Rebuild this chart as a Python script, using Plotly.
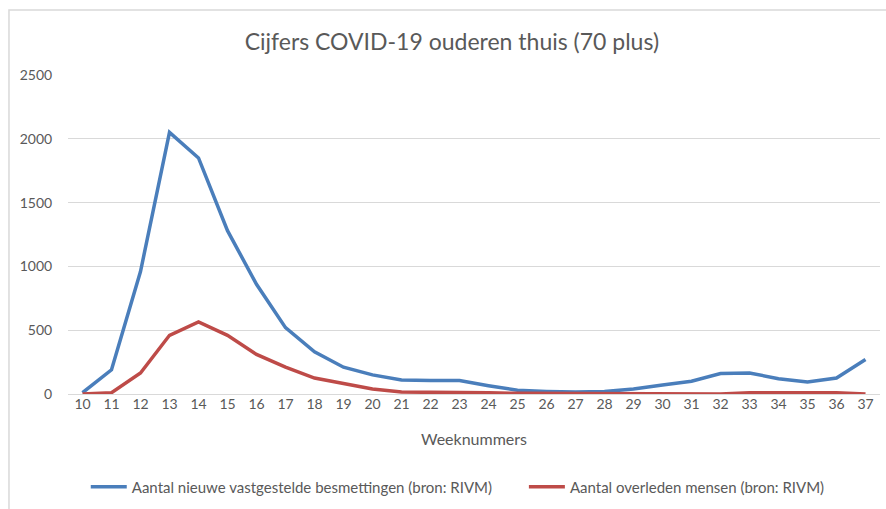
import plotly.graph_objects as go

weeks = list(range(10, 38))
besmettingen = [10, 190, 960, 2050, 1850, 1280, 860, 520, 330, 210, 150, 110, 105, 105,
                65, 30, 20, 15, 20, 40, 70, 100, 160, 165, 120, 95, 125, 270]
overleden = [0, 10, 165, 460, 565, 460, 310, 210, 125, 85, 40, 15, 15, 15,
             10, 5, 5, 5, 5, 5, 0, 0, 0, 10, 10, 10, 10, 0]
y_ticks = [0, 500, 1000, 1500, 2000, 2500]

grey = '#595959'
font_family = 'Lato, Open Sans, sans-serif'
gap = '\u00a0' * 7  # extra room between the two legend entries

fig = go.Figure()
fig.add_trace(go.Scatter(x=weeks, y=besmettingen, mode='lines',
                         name='Aantal nieuwe vastgestelde besmettingen (bron: RIVM)' + gap,
                         line=dict(color='#4a7ebb', width=3.5)))
fig.add_trace(go.Scatter(x=weeks, y=overleden, mode='lines',
                         name='Aantal overleden mensen (bron: RIVM)',
                         line=dict(color='#be4b48', width=3.5)))

fig.update_layout(
    width=886, height=509,
    margin=dict(l=68, r=6, t=75, b=115, autoexpand=False),
    paper_bgcolor='white', plot_bgcolor='white',
    font=dict(family=font_family, color=grey, size=13),
    title=dict(text='Cijfers COVID-19 ouderen thuis (70 plus)',
               x=0.51, xanchor='center', y=0.917, yanchor='middle',
               font=dict(size=23, color=grey, family=font_family)),
    showlegend=True,
    legend=dict(orientation='h', x=0.48, xanchor='center',
                y=-0.2915, yanchor='middle',
                font=dict(size=15, color=grey),
                itemwidth=36, tracegroupgap=0, bgcolor='rgba(0,0,0,0)'),
    xaxis=dict(range=[9.5, 37.5], tickmode='array', tickvals=weeks,
               showgrid=False, zeroline=False, showline=False, ticks='',
               automargin=False,
               tickfont=dict(size=14, color=grey),
               title=dict(text='Weeknummers', font=dict(size=16, color=grey),
                          standoff=22)),
    yaxis=dict(range=[0, 2500], tickmode='array', tickvals=y_ticks,
               showgrid=True, gridcolor='#d9d9d9', gridwidth=1,
               zeroline=True, zerolinecolor='#d9d9d9', zerolinewidth=1,
               showline=False, ticks='outside', ticklen=12, tickcolor='white',
               automargin=False,
               tickfont=dict(size=14, color=grey)),
    shapes=[dict(type='rect', xref='paper', yref='paper',
                 x0=-0.0727, x1=1.03, y0=-0.4, y1=1.2038,
                 line=dict(color='#d9d9d9', width=1.5), layer='below')],
)

# the page body has a default 8px margin; remove it so the figure fills the window
fig.write_html("out.html", config={'displayModeBar': False},
               post_script="document.body.style.margin='0';")
